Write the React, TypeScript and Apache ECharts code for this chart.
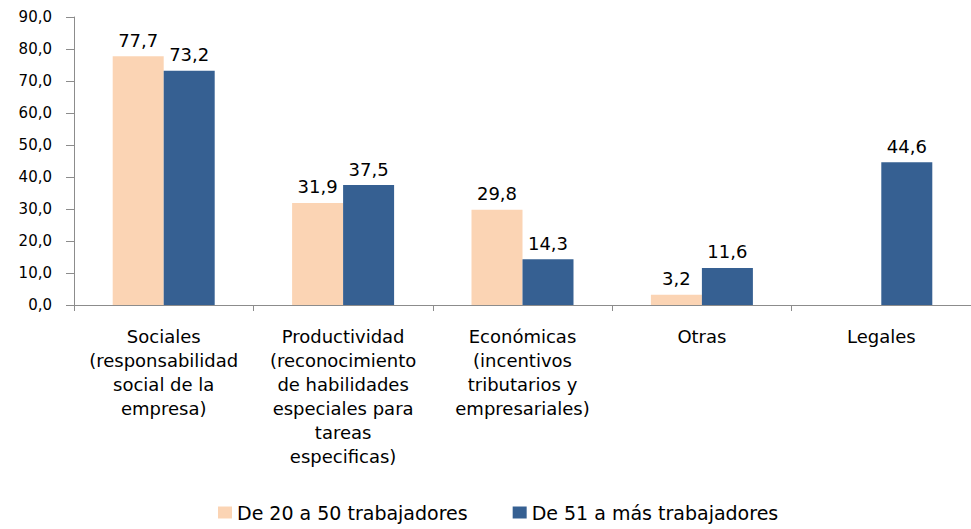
import React, { useEffect, useRef } from "react";
import * as echarts from "echarts";

const categories = [
  "Sociales\n(responsabilidad\nsocial de la\nempresa)",
  "Productividad\n(reconocimiento\nde habilidades\nespeciales para\ntareas\nespecificas)",
  "Económicas\n(incentivos\ntributarios y\nempresariales)",
  "Otras",
  "Legales",
];
const seriesNames = ["De 20 a 50 trabajadores", "De 51 a más trabajadores"];
const small = [77.7, 31.9, 29.8, 3.2, null];
const large = [73.2, 37.5, 14.3, 11.6, 44.6];

const fmt = (v: number) => v.toFixed(1).replace(".", ",");
const FONT = "DejaVu Sans";

export default function App() {
  const ref = useRef<HTMLDivElement>(null);
  useEffect(() => {
    if (!ref.current) return;
    const chart = echarts.init(ref.current, undefined, { renderer: "svg" });
    const labelCfg = {
      show: true,
      position: "top",
      distance: 7,
      color: "#000",
      fontFamily: FONT,
      fontSize: 18,
      formatter: (p: any) => (p.value == null ? "" : fmt(p.value)),
    };
    chart.setOption({
      animation: false,
      backgroundColor: "#fff",
      grid: { left: 74, top: 17, width: 904, height: 288, containLabel: false },
      legend: {
        top: 503,
        left: 218,
        itemWidth: 14,
        itemHeight: 12,
        itemGap: 45,
        icon: "rect",
        padding: 0,
        textStyle: { fontFamily: FONT, fontSize: 19, color: "#000" },
        data: seriesNames,
      },
      xAxis: {
        type: "category",
        data: categories,
        axisLine: { lineStyle: { color: "#8c8c8c", width: 1 } },
        axisTick: { show: true, length: 6, alignWithLabel: false, lineStyle: { color: "#8c8c8c" } },
        axisLabel: {
          interval: 0,
          margin: 19,
          color: "#000",
          fontFamily: FONT,
          fontSize: 18,
          lineHeight: 24,
        },
      },
      yAxis: {
        type: "value",
        min: 0,
        max: 90,
        interval: 10,
        splitLine: { show: false },
        axisLine: { show: true, lineStyle: { color: "#8c8c8c", width: 1 } },
        axisTick: { show: true, length: 8, lineStyle: { color: "#8c8c8c" } },
        axisLabel: {
          margin: 22,
          color: "#000",
          fontFamily: FONT,
          fontSize: 15,
          formatter: (v: number) => fmt(v),
        },
      },
      series: [
        {
          name: seriesNames[0],
          type: "bar",
          data: small,
          barWidth: 51,
          barGap: "0%",
          itemStyle: { color: "#FBD4B4" },
          label: labelCfg,
        },
        {
          name: seriesNames[1],
          type: "bar",
          data: large,
          barWidth: 51,
          barGap: "0%",
          itemStyle: { color: "#366092" },
          label: labelCfg,
        },
      ],
    });
    return () => chart.dispose();
  }, []);
  return <div ref={ref} style={{ width: 971, height: 529, position: "absolute", left: 0, top: 0 }} />;
}
